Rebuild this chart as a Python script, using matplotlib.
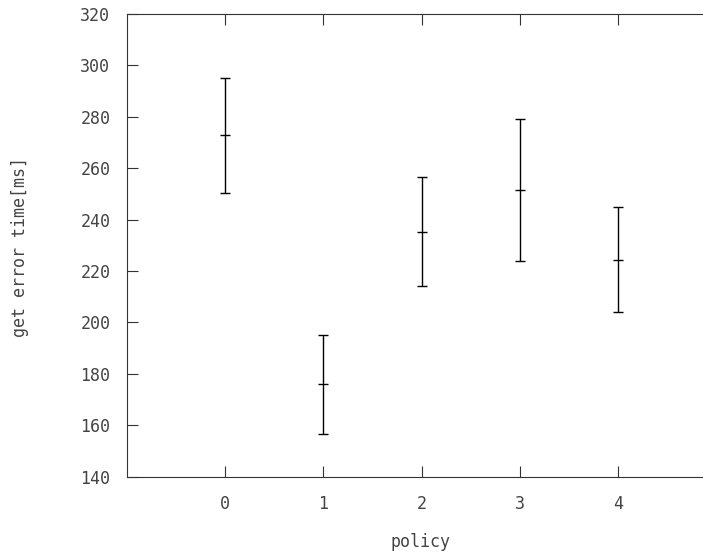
import matplotlib
matplotlib.use("Agg")
import matplotlib.pyplot as plt

policy = [0, 1, 2, 3, 4]
mean_ms = [272.9, 175.9, 235.3, 251.5, 224.3]
upper_ms = [295.1, 195.2, 256.6, 279.0, 245.0]
lower_ms = [250.5, 156.6, 214.2, 223.8, 204.1]

err_low = [m - lo for m, lo in zip(mean_ms, lower_ms)]
err_high = [hi - m for m, hi in zip(mean_ms, upper_ms)]

plt.rcParams["font.family"] = "DejaVu Sans Mono"
plt.rcParams["font.size"] = 12

fig = plt.figure(figsize=(7.03, 5.54), dpi=100)
ax = fig.add_axes([127 / 703, 1 - 476.7 / 554, 589 / 703, 462.7 / 554])

ax.errorbar(policy, mean_ms, yerr=[err_low, err_high], fmt="_", color="black",
            ecolor="black", elinewidth=1.0, capsize=3.6, capthick=1.0,
            markersize=7.2, markeredgewidth=1.0)

ax.set_xlim(-1, 5)
ax.set_ylim(140, 320)
ax.set_xticks(policy)
ax.set_yticks(range(140, 321, 20))
ax.tick_params(direction="in", length=7.7, width=0.8, top=True, right=True,
               colors="#333333", labelcolor="#444444")
ax.tick_params(axis="x", pad=13)
ax.tick_params(axis="y", pad=12)
for s in ax.spines.values():
    s.set_linewidth(0.8)
    s.set_color("#333333")

ax.set_xlabel("policy", color="#444444")
ax.set_ylabel("get error time[ms]", color="#444444")
ax.xaxis.set_label_coords((420 - 127) / 589, (476.7 - 542) / 462.7)
ax.yaxis.set_label_coords((20 - 127) / 589, (476.7 - 247) / 462.7)
ax.xaxis.label.set_va("center")
ax.yaxis.label.set_va("center")

fig.savefig("out.png", dpi=100)
